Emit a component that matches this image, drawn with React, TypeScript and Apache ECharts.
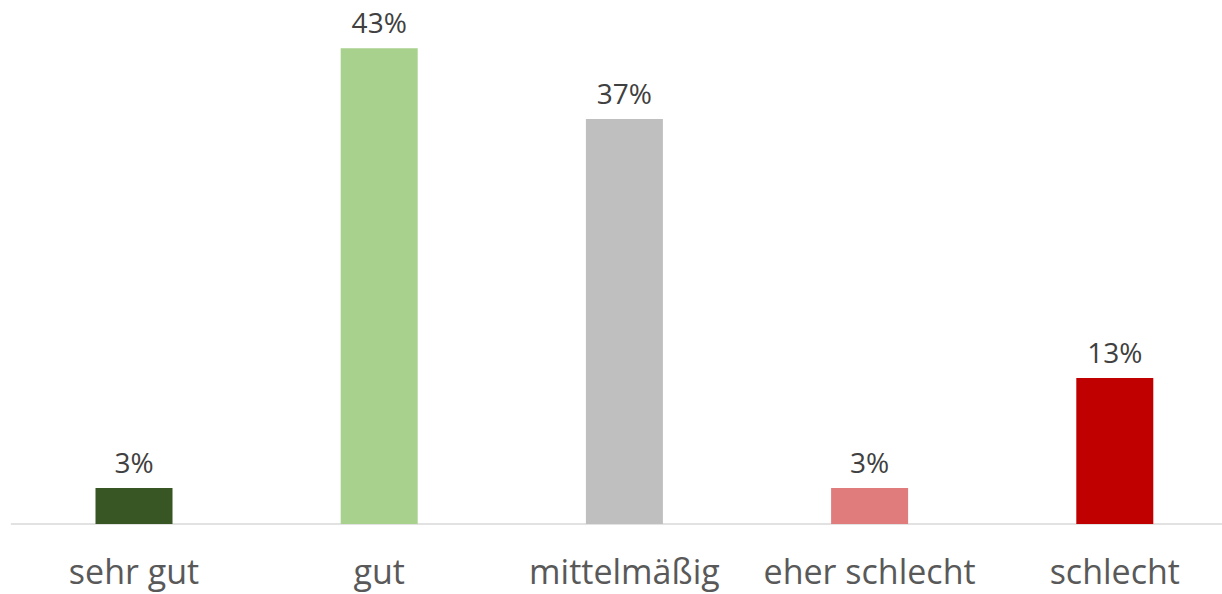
import React, { useEffect, useRef } from "react";
import * as echarts from "echarts";

const categories = ["sehr gut", "gut", "mittelmäßig", "eher schlecht", "schlecht"];
const values = [3.25, 43, 36.6, 3.25, 13.2];
const colors = ["#375623", "#A9D18E", "#BFBFBF", "#E07C7C", "#C00000"];

export default function App() {
  const ref = useRef<HTMLDivElement>(null);
  useEffect(() => {
    if (!ref.current) return;
    const chart = echarts.init(ref.current, null, { renderer: "svg" });
    chart.setOption({
      animation: false,
      grid: { left: 11.4, right: 2.6, top: 26, bottom: 70, containLabel: false },
      xAxis: {
        type: "category",
        data: categories,
        axisLine: { lineStyle: { color: "#D9D9D9", width: 1.5 } },
        axisTick: { show: false },
        axisLabel: {
          color: "#595959",
          fontSize: 34,
          lineHeight: 34,
          fontFamily: "Open Sans",
          margin: 30,
          interval: 0,
        },
      },
      yAxis: {
        type: "value",
        min: 0,
        max: 45,
        show: false,
        splitLine: { show: false },
      },
      series: [
        {
          type: "bar",
          barWidth: 77,
          data: values.map((v, i) => ({
            value: v,
            itemStyle: { color: colors[i] },
          })),
          label: {
            show: true,
            position: "top",
            distance: 12,
            color: "#404040",
            fontSize: 28,
            fontFamily: "Open Sans",
            formatter: (p: any) => Math.round(p.value) + "%",
          },
        },
      ],
    });
    return () => chart.dispose();
  }, []);
  return (
    <div
      ref={ref}
      style={{ position: "fixed", left: 0, top: 0, width: 1240, height: 594, background: "#fff" }}
    />
  );
}
